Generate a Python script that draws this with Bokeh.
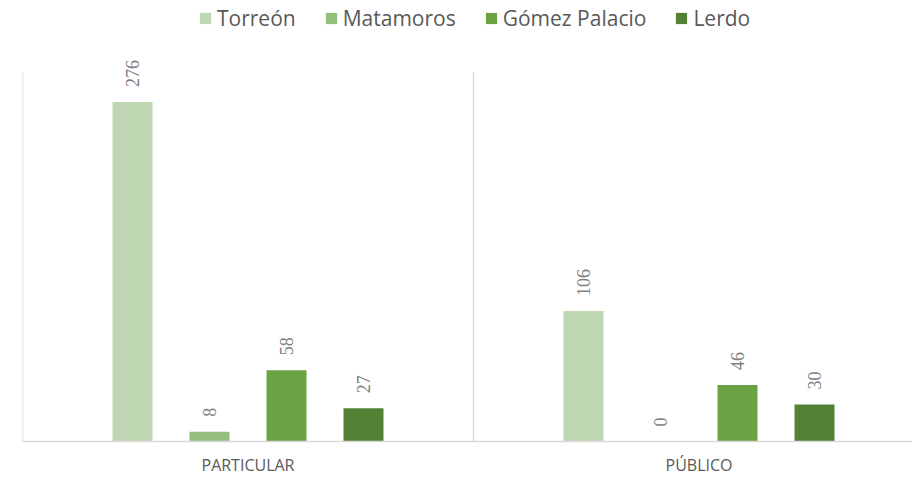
from bokeh.plotting import figure
from bokeh.models import (ColumnDataSource, Range1d, FixedTicker, LabelSet, Legend, LegendItem,
                          CustomJSTickFormatter)
from bokeh.embed import file_html
from bokeh.resources import INLINE
import math

categories = ["PARTICULAR", "PÚBLICO"]
series = ["Torreón", "Matamoros", "Gómez Palacio", "Lerdo"]
torreon = [276, 106]
matamoros = [8, 0]
gomez_palacio = [58, 46]
lerdo = [27, 30]
values = [torreon, matamoros, gomez_palacio, lerdo]
colors = ["#BFD7B3", "#93BE7B", "#6AA343", "#548235"]
axis_max = 300

FONT = "Open Sans"

p = figure(width=912, height=478, output_backend="svg", toolbar_location=None,
           x_range=Range1d(0, 890 / 451), y_range=Range1d(0, 358.5),
           min_border_left=22, min_border_right=0, min_border_top=0, min_border_bottom=37)
p.outline_line_color = None
p.background_fill_color = "white"
p.border_fill_color = "white"
p.yaxis.visible = False
p.ygrid.visible = False
p.xgrid.visible = False

# category separators
bounds = list(range(len(categories) + 1))
p.segment(x0=bounds, y0=[0] * len(bounds), x1=bounds, y1=[axis_max] * len(bounds),
          line_color="#D9D9D9", line_width=1.5)

centers = [i + 0.5 for i in range(len(categories))]
p.xaxis.ticker = FixedTicker(ticks=centers)
p.xaxis.formatter = CustomJSTickFormatter(args=dict(cats=categories),
                                          code="return cats[Math.floor(tick)];")
p.xaxis.axis_line_color = "#D9D9D9"
p.xaxis.axis_line_width = 1.5
p.xaxis.major_tick_line_color = None
p.xaxis.minor_tick_line_color = None
p.xaxis.major_label_text_font = FONT
p.xaxis.major_label_text_font_size = "16px"
p.xaxis.major_label_text_color = "#595959"
p.xaxis.major_label_standoff = 6

step = 77 / 451
bar_w = 40 / 451
items = []
for j, (name, vals, col) in enumerate(zip(series, values, colors)):
    xs = [c + (j - 1.5) * step for c in centers]
    src = ColumnDataSource(dict(x=xs, top=vals, label=[str(v) for v in vals]))
    r = p.vbar(x="x", top="top", width=bar_w, source=src, fill_color=col, line_color=None)
    items.append(LegendItem(label=name, renderers=[r]))
    labels = LabelSet(x="x", y="top", text="label", source=src, angle=math.pi / 2,
                      text_align="left", text_baseline="middle", y_offset=15,
                      text_font=FONT, text_font_size="18px", text_color="#808080")
    p.add_layout(labels)

legend = Legend(items=items, orientation="horizontal", location=(176, 409),
                glyph_width=14, glyph_height=14, label_standoff=5, spacing=28,
                label_text_font=FONT, label_text_font_size="21px", label_text_color="#595959",
                border_line_color=None, background_fill_alpha=0, padding=2, margin=0)
p.add_layout(legend)

open("out.html", "w").write(file_html(p, INLINE))
